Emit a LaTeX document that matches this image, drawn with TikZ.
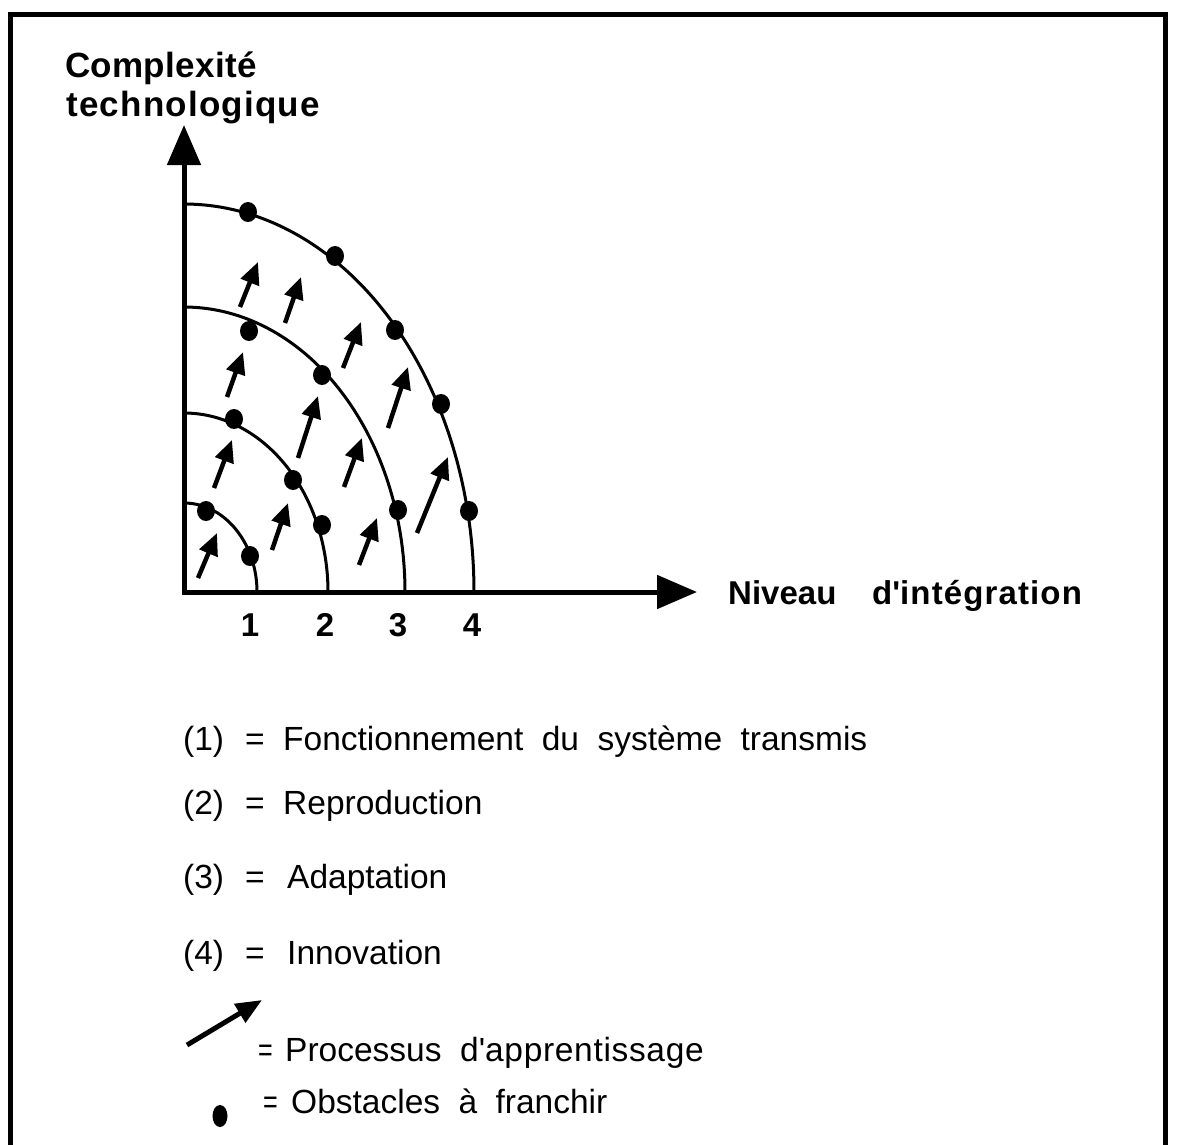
\documentclass[tikz,border=0pt]{standalone}
\usepackage{fontspec}
\setmainfont{Liberation Sans}
\usetikzlibrary{arrows.meta,shapes.geometric}
\newcommand\legwordsp{\spaceskip 0.55em\relax}
\newcommand\legfont{\fontsize{33.5}{40}\selectfont\legwordsp}
\newcommand\lblfont{\bfseries\fontsize{33}{38}\selectfont}
\newcommand\ylblfont{\bfseries\fontsize{35}{40}\selectfont}
\newcommand\narroweq{\scalebox{0.75}[1]{=}}
\begin{document}
\begin{tikzpicture}[x=1pt,y=-1pt,
  axis/.style={line width=5pt,-{Triangle[length=40pt,width=33pt]}},
  curve/.style={line width=3pt},
  obst/.style={ellipse,fill=black,inner sep=0pt,minimum width=18pt,minimum height=20pt},
  learn/.style={line width=4.5pt,-{Triangle[length=22pt,width=19pt]}},
  boldlbl/.style={font=\lblfont,inner sep=0pt,anchor=base west},
  ylbl/.style={font=\ylblfont,inner sep=0pt,anchor=base west},
  digit/.style={font=\lblfont,inner sep=0pt,anchor=base},
  leg/.style={font=\legfont,inner sep=0pt,anchor=base west}
]
\useasboundingbox (0,0) rectangle (1177,1144);
% frame
\draw[line width=5pt,line join=miter] (10.5,1170) -- (10.5,14.5) -- (1165.5,14.5) -- (1165.5,1170);

% axes
\coordinate (O) at (184,592);
\coordinate (ytip) at (184,125);
\coordinate (xtip) at (697,592);
\draw[axis] (184,594.5) -- (ytip);
\draw[axis] (181.5,592) -- (xtip);

% axis labels
\node[ylbl] (ylab1) at (65,77) {\addfontfeature{LetterSpace=1}Complexité};
\node[ylbl] (ylab2) at (66,116) {\addfontfeature{LetterSpace=3.5}technologique};
\node[boldlbl] (xlab1) at (728,604) {Niveau};
\node[boldlbl] (xlab2) at (872,604) {\addfontfeature{LetterSpace=3.4}d\textquotesingle intégration};

% digits
\node[digit] (n1) at (250,636) {1};
\node[digit] (n2) at (325,636) {2};
\node[digit] (n3) at (398,636) {3};
\node[digit] (n4) at (472,636) {4};

% quarter ellipses
\draw[curve] plot[domain=0:90,samples=90] ({184+73*cos(\x)},{592-89*sin(\x)});
\draw[curve] plot[domain=0:90,samples=90] ({184+144*cos(\x)},{592-179*sin(\x)});
\draw[curve] plot[domain=0:90,samples=90] ({184+221*cos(\x)},{592-285*sin(\x)});
\draw[curve] plot[domain=0:90,samples=90] ({184+290*cos(\x)},{592-388*sin(\x)});

% obstacles
\node[obst] (d41) at (248,212) {};
\node[obst] (d42) at (335,256) {};
\node[obst] (d43) at (395,330) {};
\node[obst] (d44) at (441,404) {};
\node[obst] (d45) at (469,511) {};
\node[obst] (d31) at (249,331) {};
\node[obst] (d32) at (322,375) {};
\node[obst] (d33) at (398,510) {};
\node[obst] (d21) at (234,419) {};
\node[obst] (d22) at (293,480) {};
\node[obst] (d23) at (322,525) {};
\node[obst] (d11) at (206,511) {};
\node[obst] (d12) at (250,556) {};

% learning arrows
\draw[learn] (198,578) -- (217,533);
\draw[learn] (240,307) -- (258,262);
\draw[learn] (285,323) -- (301,277);
\draw[learn] (227,397) -- (243,352);
\draw[learn] (214,488) -- (232,440);
\draw[learn] (343,368) -- (361,322);
\draw[learn] (298,458) -- (318,396);
\draw[learn] (388,428) -- (408,367);
\draw[learn] (344,487) -- (362,438);
\draw[learn] (272,550) -- (288,503);
\draw[learn] (359,565) -- (377,518);
\draw[learn] (417,533) -- (448,457);

% legend
\node[leg] (l1a) at (183,750) {(1)};
\node[leg] (l1b) at (245,750) {=};
\node[leg] (l1c) at (283,750) {Fonctionnement du système transmis};
\node[leg] (l2a) at (183,814) {(2)};
\node[leg] (l2b) at (245,814) {=};
\node[leg] (l2c) at (283,814) {Reproduction};
\node[leg] (l3a) at (183,888) {(3)};
\node[leg] (l3b) at (245,888) {=};
\node[leg] (l3c) at (287,888) {Adaptation};
\node[leg] (l4a) at (183,964) {(4)};
\node[leg] (l4b) at (245,964) {=};
\node[leg] (l4c) at (287,964) {Innovation};

\coordinate (la0) at (187,1045);
\coordinate (la1) at (262,1000);
\draw[line width=5pt,-{Triangle[length=26pt,width=21pt]}] (la0) -- (la1);
\node[leg] (l5b) at (258,1061) {\narroweq};
\node[leg] (l5c) at (285,1061) {Processus};
\node[leg] (l5d) at (460,1061) {\addfontfeature{LetterSpace=2}d\textquotesingle apprentissage};

\node[obst,minimum width=15pt,minimum height=22pt] (ldot) at (220,1116) {};
\node[leg] (l6b) at (263,1113) {\narroweq};
\node[leg] (l6c) at (291,1113) {Obstacles à franchir};
\end{tikzpicture}
\end{document}
